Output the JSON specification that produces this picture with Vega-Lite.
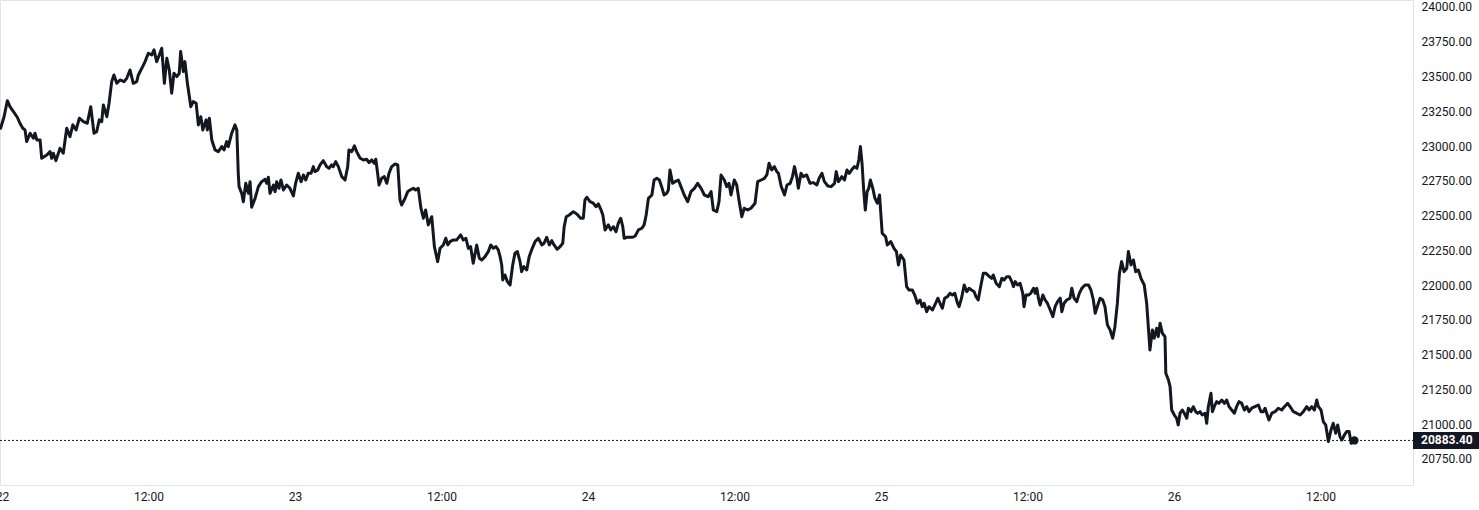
{
 "$schema": "https://vega.github.io/schema/vega-lite/v6.json",
 "width": 1413,
 "height": 485,
 "autosize": {"type": "none"},
 "padding": {"left": 0, "top": 0, "right": 66, "bottom": 25},
 "background": "#ffffff",
 "config": {"view": {"stroke": "#e0e3eb", "strokeWidth": 1}, "font": "Roboto"},
 "datasets": {
  "series": [
{"t":"2022-08-21T23:53","p":23128},{"t":"2022-08-22T00:10","p":23211},{"t":"2022-08-22T00:26","p":23326},{"t":"2022-08-22T00:39","p":23283},{"t":"2022-08-22T00:56","p":23247},{"t":"2022-08-22T01:15","p":23207},{"t":"2022-08-22T01:28","p":23164},{"t":"2022-08-22T01:42","p":23128},{"t":"2022-08-22T01:53","p":23116},{"t":"2022-08-22T02:01","p":23032},{"t":"2022-08-22T02:18","p":23092},{"t":"2022-08-22T02:34","p":23056},{"t":"2022-08-22T02:42","p":23092},{"t":"2022-08-22T02:51","p":23044},{"t":"2022-08-22T03:07","p":23044},{"t":"2022-08-22T03:15","p":22912},{"t":"2022-08-22T03:40","p":22936},{"t":"2022-08-22T03:56","p":22960},{"t":"2022-08-22T04:04","p":22912},{"t":"2022-08-22T04:12","p":22948},{"t":"2022-08-22T04:25","p":22895},{"t":"2022-08-22T04:45","p":22984},{"t":"2022-08-22T05:01","p":22948},{"t":"2022-08-22T05:18","p":23128},{"t":"2022-08-22T05:34","p":23067},{"t":"2022-08-22T05:48","p":23152},{"t":"2022-08-22T06:04","p":23116},{"t":"2022-08-22T06:20","p":23200},{"t":"2022-08-22T06:40","p":23175},{"t":"2022-08-22T06:59","p":23164},{"t":"2022-08-22T07:16","p":23283},{"t":"2022-08-22T07:32","p":23092},{"t":"2022-08-22T07:45","p":23103},{"t":"2022-08-22T07:58","p":23188},{"t":"2022-08-22T08:10","p":23175},{"t":"2022-08-22T08:18","p":23295},{"t":"2022-08-22T08:35","p":23211},{"t":"2022-08-22T08:46","p":23308},{"t":"2022-08-22T08:59","p":23463},{"t":"2022-08-22T09:10","p":23511},{"t":"2022-08-22T09:24","p":23451},{"t":"2022-08-22T09:40","p":23475},{"t":"2022-08-22T10:00","p":23463},{"t":"2022-08-22T10:13","p":23487},{"t":"2022-08-22T10:29","p":23547},{"t":"2022-08-22T10:45","p":23451},{"t":"2022-08-22T11:02","p":23463},{"t":"2022-08-22T11:10","p":23511},{"t":"2022-08-22T11:27","p":23559},{"t":"2022-08-22T11:43","p":23607},{"t":"2022-08-22T11:59","p":23667},{"t":"2022-08-22T12:16","p":23655},{"t":"2022-08-22T12:27","p":23691},{"t":"2022-08-22T12:40","p":23607},{"t":"2022-08-22T12:53","p":23655},{"t":"2022-08-22T13:05","p":23703},{"t":"2022-08-22T13:18","p":23451},{"t":"2022-08-22T13:30","p":23631},{"t":"2022-08-22T13:42","p":23547},{"t":"2022-08-22T13:54","p":23380},{"t":"2022-08-22T14:05","p":23523},{"t":"2022-08-22T14:19","p":23499},{"t":"2022-08-22T14:31","p":23523},{"t":"2022-08-22T14:38","p":23679},{"t":"2022-08-22T14:51","p":23535},{"t":"2022-08-22T14:59","p":23607},{"t":"2022-08-22T15:11","p":23451},{"t":"2022-08-22T15:28","p":23283},{"t":"2022-08-22T15:40","p":23319},{"t":"2022-08-22T15:54","p":23308},{"t":"2022-08-22T16:05","p":23152},{"t":"2022-08-22T16:17","p":23211},{"t":"2022-08-22T16:27","p":23116},{"t":"2022-08-22T16:43","p":23188},{"t":"2022-08-22T16:49","p":23116},{"t":"2022-08-22T16:59","p":23200},{"t":"2022-08-22T17:11","p":23044},{"t":"2022-08-22T17:27","p":22972},{"t":"2022-08-22T17:43","p":22960},{"t":"2022-08-22T18:00","p":22996},{"t":"2022-08-22T18:11","p":22972},{"t":"2022-08-22T18:24","p":23032},{"t":"2022-08-22T18:32","p":22996},{"t":"2022-08-22T18:49","p":23092},{"t":"2022-08-22T19:05","p":23152},{"t":"2022-08-22T19:14","p":23116},{"t":"2022-08-22T19:21","p":22804},{"t":"2022-08-22T19:25","p":22708},{"t":"2022-08-22T19:38","p":22660},{"t":"2022-08-22T19:46","p":22600},{"t":"2022-08-22T19:58","p":22732},{"t":"2022-08-22T20:11","p":22660},{"t":"2022-08-22T20:19","p":22744},{"t":"2022-08-22T20:27","p":22560},{"t":"2022-08-22T20:44","p":22625},{"t":"2022-08-22T21:00","p":22708},{"t":"2022-08-22T21:16","p":22744},{"t":"2022-08-22T21:33","p":22761},{"t":"2022-08-22T21:41","p":22732},{"t":"2022-08-22T21:49","p":22776},{"t":"2022-08-22T21:57","p":22660},{"t":"2022-08-22T22:14","p":22720},{"t":"2022-08-22T22:22","p":22672},{"t":"2022-08-22T22:30","p":22744},{"t":"2022-08-22T22:41","p":22696},{"t":"2022-08-22T22:51","p":22756},{"t":"2022-08-22T23:03","p":22684},{"t":"2022-08-22T23:19","p":22720},{"t":"2022-08-22T23:35","p":22696},{"t":"2022-08-22T23:52","p":22641},
{"t":"2022-08-23T00:03","p":22732},{"t":"2022-08-23T00:16","p":22804},{"t":"2022-08-23T00:30","p":22744},{"t":"2022-08-23T00:41","p":22792},{"t":"2022-08-23T00:53","p":22756},{"t":"2022-08-23T01:05","p":22804},{"t":"2022-08-23T01:19","p":22804},{"t":"2022-08-23T01:30","p":22852},{"t":"2022-08-23T01:38","p":22816},{"t":"2022-08-23T01:52","p":22828},{"t":"2022-08-23T02:03","p":22864},{"t":"2022-08-23T02:19","p":22895},{"t":"2022-08-23T02:36","p":22852},{"t":"2022-08-23T02:47","p":22840},{"t":"2022-08-23T03:00","p":22864},{"t":"2022-08-23T03:08","p":22852},{"t":"2022-08-23T03:20","p":22888},{"t":"2022-08-23T03:33","p":22852},{"t":"2022-08-23T03:50","p":22780},{"t":"2022-08-23T04:06","p":22756},{"t":"2022-08-23T04:19","p":22852},{"t":"2022-08-23T04:25","p":22972},{"t":"2022-08-23T04:39","p":22960},{"t":"2022-08-23T04:52","p":23001},{"t":"2022-08-23T05:03","p":22960},{"t":"2022-08-23T05:20","p":22912},{"t":"2022-08-23T05:36","p":22900},{"t":"2022-08-23T05:52","p":22905},{"t":"2022-08-23T06:04","p":22881},{"t":"2022-08-23T06:17","p":22900},{"t":"2022-08-23T06:30","p":22876},{"t":"2022-08-23T06:37","p":22905},{"t":"2022-08-23T06:46","p":22804},{"t":"2022-08-23T06:53","p":22720},{"t":"2022-08-23T07:06","p":22768},{"t":"2022-08-23T07:19","p":22780},{"t":"2022-08-23T07:31","p":22732},{"t":"2022-08-23T07:42","p":22804},{"t":"2022-08-23T07:55","p":22852},{"t":"2022-08-23T08:12","p":22871},{"t":"2022-08-23T08:25","p":22864},{"t":"2022-08-23T08:36","p":22612},{"t":"2022-08-23T08:44","p":22576},{"t":"2022-08-23T09:01","p":22625},{"t":"2022-08-23T09:14","p":22672},{"t":"2022-08-23T09:25","p":22684},{"t":"2022-08-23T09:42","p":22696},{"t":"2022-08-23T09:53","p":22684},{"t":"2022-08-23T10:06","p":22696},{"t":"2022-08-23T10:19","p":22553},{"t":"2022-08-23T10:31","p":22481},{"t":"2022-08-23T10:42","p":22540},{"t":"2022-08-23T10:55","p":22433},{"t":"2022-08-23T11:12","p":22492},{"t":"2022-08-23T11:25","p":22277},{"t":"2022-08-23T11:41","p":22169},{"t":"2022-08-23T11:53","p":22265},{"t":"2022-08-23T12:09","p":22289},{"t":"2022-08-23T12:21","p":22337},{"t":"2022-08-23T12:31","p":22289},{"t":"2022-08-23T12:42","p":22313},{"t":"2022-08-23T12:58","p":22325},{"t":"2022-08-23T13:15","p":22325},{"t":"2022-08-23T13:34","p":22361},{"t":"2022-08-23T13:47","p":22325},{"t":"2022-08-23T14:00","p":22337},{"t":"2022-08-23T14:12","p":22265},{"t":"2022-08-23T14:23","p":22277},{"t":"2022-08-23T14:36","p":22157},{"t":"2022-08-23T14:53","p":22289},{"t":"2022-08-23T15:06","p":22193},{"t":"2022-08-23T15:18","p":22181},{"t":"2022-08-23T15:34","p":22205},{"t":"2022-08-23T15:50","p":22241},{"t":"2022-08-23T16:02","p":22289},{"t":"2022-08-23T16:15","p":22265},{"t":"2022-08-23T16:28","p":22277},{"t":"2022-08-23T16:39","p":22253},{"t":"2022-08-23T16:48","p":22205},{"t":"2022-08-23T16:56","p":22145},{"t":"2022-08-23T17:01","p":22037},{"t":"2022-08-23T17:12","p":22073},{"t":"2022-08-23T17:24","p":22025},{"t":"2022-08-23T17:37","p":22001},{"t":"2022-08-23T17:50","p":22145},{"t":"2022-08-23T18:01","p":22229},{"t":"2022-08-23T18:13","p":22241},{"t":"2022-08-23T18:26","p":22169},{"t":"2022-08-23T18:34","p":22097},{"t":"2022-08-23T18:45","p":22133},{"t":"2022-08-23T18:59","p":22109},{"t":"2022-08-23T19:11","p":22205},{"t":"2022-08-23T19:23","p":22253},{"t":"2022-08-23T19:40","p":22313},{"t":"2022-08-23T19:56","p":22337},{"t":"2022-08-23T20:13","p":22289},{"t":"2022-08-23T20:24","p":22301},{"t":"2022-08-23T20:37","p":22344},{"t":"2022-08-23T20:50","p":22289},{"t":"2022-08-23T21:02","p":22320},{"t":"2022-08-23T21:13","p":22289},{"t":"2022-08-23T21:29","p":22258},{"t":"2022-08-23T21:43","p":22277},{"t":"2022-08-23T21:56","p":22301},{"t":"2022-08-23T22:03","p":22420},{"t":"2022-08-23T22:13","p":22492},{"t":"2022-08-23T22:28","p":22504},{"t":"2022-08-23T22:48","p":22528},{"t":"2022-08-23T23:05","p":22512},{"t":"2022-08-23T23:24","p":22481},{"t":"2022-08-23T23:37","p":22481},{"t":"2022-08-23T23:45","p":22612},{"t":"2022-08-23T23:54","p":22632},
{"t":"2022-08-24T00:10","p":22600},{"t":"2022-08-24T00:26","p":22589},{"t":"2022-08-24T00:40","p":22564},{"t":"2022-08-24T00:51","p":22584},{"t":"2022-08-24T01:03","p":22545},{"t":"2022-08-24T01:13","p":22504},{"t":"2022-08-24T01:24","p":22397},{"t":"2022-08-24T01:40","p":22433},{"t":"2022-08-24T01:52","p":22397},{"t":"2022-08-24T02:05","p":22420},{"t":"2022-08-24T02:18","p":22384},{"t":"2022-08-24T02:29","p":22445},{"t":"2022-08-24T02:41","p":22481},{"t":"2022-08-24T02:51","p":22420},{"t":"2022-08-24T02:58","p":22337},{"t":"2022-08-24T03:11","p":22344},{"t":"2022-08-24T03:27","p":22344},{"t":"2022-08-24T03:40","p":22344},{"t":"2022-08-24T03:52","p":22353},{"t":"2022-08-24T04:08","p":22397},{"t":"2022-08-24T04:25","p":22409},{"t":"2022-08-24T04:36","p":22433},{"t":"2022-08-24T04:46","p":22504},{"t":"2022-08-24T04:57","p":22624},{"t":"2022-08-24T05:14","p":22648},{"t":"2022-08-24T05:25","p":22756},{"t":"2022-08-24T05:38","p":22768},{"t":"2022-08-24T05:51","p":22756},{"t":"2022-08-24T06:02","p":22708},{"t":"2022-08-24T06:14","p":22648},{"t":"2022-08-24T06:27","p":22660},{"t":"2022-08-24T06:35","p":22684},{"t":"2022-08-24T06:43","p":22828},{"t":"2022-08-24T06:56","p":22732},{"t":"2022-08-24T07:08","p":22744},{"t":"2022-08-24T07:24","p":22756},{"t":"2022-08-24T07:37","p":22708},{"t":"2022-08-24T07:53","p":22648},{"t":"2022-08-24T08:10","p":22600},{"t":"2022-08-24T08:26","p":22672},{"t":"2022-08-24T08:43","p":22696},{"t":"2022-08-24T08:59","p":22732},{"t":"2022-08-24T09:16","p":22696},{"t":"2022-08-24T09:32","p":22648},{"t":"2022-08-24T09:51","p":22636},{"t":"2022-08-24T10:05","p":22672},{"t":"2022-08-24T10:16","p":22540},{"t":"2022-08-24T10:33","p":22528},{"t":"2022-08-24T10:44","p":22600},{"t":"2022-08-24T10:54","p":22792},{"t":"2022-08-24T11:10","p":22756},{"t":"2022-08-24T11:22","p":22708},{"t":"2022-08-24T11:33","p":22732},{"t":"2022-08-24T11:43","p":22648},{"t":"2022-08-24T11:59","p":22756},{"t":"2022-08-24T12:11","p":22720},{"t":"2022-08-24T12:22","p":22612},{"t":"2022-08-24T12:36","p":22492},{"t":"2022-08-24T12:48","p":22553},{"t":"2022-08-24T13:05","p":22540},{"t":"2022-08-24T13:21","p":22553},{"t":"2022-08-24T13:41","p":22589},{"t":"2022-08-24T13:54","p":22744},{"t":"2022-08-24T14:11","p":22756},{"t":"2022-08-24T14:27","p":22768},{"t":"2022-08-24T14:39","p":22792},{"t":"2022-08-24T14:50","p":22876},{"t":"2022-08-24T15:03","p":22828},{"t":"2022-08-24T15:16","p":22852},{"t":"2022-08-24T15:28","p":22816},{"t":"2022-08-24T15:36","p":22804},{"t":"2022-08-24T15:50","p":22708},{"t":"2022-08-24T16:06","p":22648},{"t":"2022-08-24T16:18","p":22720},{"t":"2022-08-24T16:34","p":22732},{"t":"2022-08-24T16:45","p":22780},{"t":"2022-08-24T16:55","p":22852},{"t":"2022-08-24T17:07","p":22768},{"t":"2022-08-24T17:14","p":22696},{"t":"2022-08-24T17:27","p":22804},{"t":"2022-08-24T17:38","p":22780},{"t":"2022-08-24T17:55","p":22792},{"t":"2022-08-24T18:11","p":22732},{"t":"2022-08-24T18:28","p":22737},{"t":"2022-08-24T18:45","p":22720},{"t":"2022-08-24T18:56","p":22768},{"t":"2022-08-24T19:10","p":22804},{"t":"2022-08-24T19:22","p":22744},{"t":"2022-08-24T19:39","p":22713},{"t":"2022-08-24T19:55","p":22708},{"t":"2022-08-24T20:12","p":22732},{"t":"2022-08-24T20:20","p":22816},{"t":"2022-08-24T20:31","p":22744},{"t":"2022-08-24T20:48","p":22780},{"t":"2022-08-24T21:01","p":22756},{"t":"2022-08-24T21:13","p":22828},{"t":"2022-08-24T21:24","p":22804},{"t":"2022-08-24T21:38","p":22833},{"t":"2022-08-24T21:50","p":22852},{"t":"2022-08-24T22:02","p":22840},{"t":"2022-08-24T22:11","p":22900},{"t":"2022-08-24T22:19","p":22996},{"t":"2022-08-24T22:27","p":22876},{"t":"2022-08-24T22:35","p":22684},{"t":"2022-08-24T22:43","p":22540},{"t":"2022-08-24T22:52","p":22672},{"t":"2022-08-24T23:00","p":22696},{"t":"2022-08-24T23:08","p":22756},{"t":"2022-08-24T23:20","p":22696},{"t":"2022-08-24T23:30","p":22625},{"t":"2022-08-24T23:42","p":22589},{"t":"2022-08-24T23:53","p":22648},
{"t":"2022-08-25T00:06","p":22373},{"t":"2022-08-25T00:23","p":22348},{"t":"2022-08-25T00:31","p":22289},{"t":"2022-08-25T00:48","p":22313},{"t":"2022-08-25T01:04","p":22265},{"t":"2022-08-25T01:16","p":22241},{"t":"2022-08-25T01:26","p":22145},{"t":"2022-08-25T01:37","p":22217},{"t":"2022-08-25T01:53","p":22181},{"t":"2022-08-25T02:06","p":21989},{"t":"2022-08-25T02:18","p":21965},{"t":"2022-08-25T02:34","p":21965},{"t":"2022-08-25T02:46","p":21929},{"t":"2022-08-25T02:59","p":21870},{"t":"2022-08-25T03:12","p":21893},{"t":"2022-08-25T03:23","p":21845},{"t":"2022-08-25T03:32","p":21870},{"t":"2022-08-25T03:45","p":21809},{"t":"2022-08-25T03:56","p":21845},{"t":"2022-08-25T04:13","p":21821},{"t":"2022-08-25T04:29","p":21870},{"t":"2022-08-25T04:40","p":21906},{"t":"2022-08-25T04:54","p":21857},{"t":"2022-08-25T05:02","p":21834},{"t":"2022-08-25T05:13","p":21906},{"t":"2022-08-25T05:27","p":21917},{"t":"2022-08-25T05:39","p":21941},{"t":"2022-08-25T05:51","p":21929},{"t":"2022-08-25T06:03","p":21941},{"t":"2022-08-25T06:16","p":21870},{"t":"2022-08-25T06:24","p":21845},{"t":"2022-08-25T06:36","p":21906},{"t":"2022-08-25T06:49","p":22001},{"t":"2022-08-25T07:02","p":21953},{"t":"2022-08-25T07:13","p":21977},{"t":"2022-08-25T07:25","p":21965},{"t":"2022-08-25T07:38","p":21953},{"t":"2022-08-25T07:47","p":21917},{"t":"2022-08-25T07:58","p":21893},{"t":"2022-08-25T08:10","p":21989},{"t":"2022-08-25T08:23","p":22085},{"t":"2022-08-25T08:36","p":22085},{"t":"2022-08-25T08:53","p":22061},{"t":"2022-08-25T09:04","p":22049},{"t":"2022-08-25T09:12","p":22073},{"t":"2022-08-25T09:26","p":22013},{"t":"2022-08-25T09:42","p":21989},{"t":"2022-08-25T09:54","p":22049},{"t":"2022-08-25T10:05","p":22037},{"t":"2022-08-25T10:18","p":22061},{"t":"2022-08-25T10:31","p":22061},{"t":"2022-08-25T10:43","p":22025},{"t":"2022-08-25T10:51","p":21989},{"t":"2022-08-25T11:00","p":22025},{"t":"2022-08-25T11:11","p":22001},{"t":"2022-08-25T11:24","p":22013},{"t":"2022-08-25T11:37","p":21941},{"t":"2022-08-25T11:43","p":21845},{"t":"2022-08-25T11:53","p":21929},{"t":"2022-08-25T12:05","p":21929},{"t":"2022-08-25T12:16","p":21941},{"t":"2022-08-25T12:30","p":21977},{"t":"2022-08-25T12:38","p":21941},{"t":"2022-08-25T12:46","p":21977},{"t":"2022-08-25T12:54","p":21906},{"t":"2022-08-25T13:02","p":21857},{"t":"2022-08-25T13:16","p":21929},{"t":"2022-08-25T13:27","p":21893},{"t":"2022-08-25T13:38","p":21870},{"t":"2022-08-25T13:52","p":21821},{"t":"2022-08-25T14:05","p":21773},{"t":"2022-08-25T14:16","p":21845},{"t":"2022-08-25T14:28","p":21881},{"t":"2022-08-25T14:41","p":21906},{"t":"2022-08-25T14:49","p":21809},{"t":"2022-08-25T15:00","p":21870},{"t":"2022-08-25T15:13","p":21893},{"t":"2022-08-25T15:29","p":21906},{"t":"2022-08-25T15:38","p":21977},{"t":"2022-08-25T15:49","p":21906},{"t":"2022-08-25T16:02","p":21881},{"t":"2022-08-25T16:15","p":21941},{"t":"2022-08-25T16:27","p":21977},{"t":"2022-08-25T16:43","p":22001},{"t":"2022-08-25T17:00","p":22001},{"t":"2022-08-25T17:12","p":21965},{"t":"2022-08-25T17:24","p":21893},{"t":"2022-08-25T17:33","p":21798},{"t":"2022-08-25T17:43","p":21845},{"t":"2022-08-25T17:57","p":21906},{"t":"2022-08-25T18:10","p":21893},{"t":"2022-08-25T18:21","p":21845},{"t":"2022-08-25T18:33","p":21714},{"t":"2022-08-25T18:46","p":21678},{"t":"2022-08-25T18:59","p":21618},{"t":"2022-08-25T19:10","p":21701},{"t":"2022-08-25T19:22","p":21870},{"t":"2022-08-25T19:32","p":22085},{"t":"2022-08-25T19:43","p":22169},{"t":"2022-08-25T19:55","p":22097},{"t":"2022-08-25T20:08","p":22121},{"t":"2022-08-25T20:16","p":22241},{"t":"2022-08-25T20:29","p":22145},{"t":"2022-08-25T20:41","p":22181},{"t":"2022-08-25T20:52","p":22097},{"t":"2022-08-25T21:05","p":22109},{"t":"2022-08-25T21:18","p":22049},{"t":"2022-08-25T21:34","p":22001},{"t":"2022-08-25T21:46","p":21870},{"t":"2022-08-25T21:54","p":21701},{"t":"2022-08-25T22:02","p":21534},{"t":"2022-08-25T22:14","p":21678},{"t":"2022-08-25T22:23","p":21618},{"t":"2022-08-25T22:35","p":21690},{"t":"2022-08-25T22:43","p":21630},{"t":"2022-08-25T22:52","p":21726},{"t":"2022-08-25T23:03","p":21654},{"t":"2022-08-25T23:16","p":21630},{"t":"2022-08-25T23:20","p":21366},{"t":"2022-08-25T23:33","p":21318},{"t":"2022-08-25T23:41","p":21270},{"t":"2022-08-25T23:49","p":21102},
{"t":"2022-08-26T00:02","p":21066},{"t":"2022-08-26T00:13","p":21043},{"t":"2022-08-26T00:21","p":20995},{"t":"2022-08-26T00:30","p":21079},{"t":"2022-08-26T00:41","p":21102},{"t":"2022-08-26T00:51","p":21079},{"t":"2022-08-26T01:03","p":21043},{"t":"2022-08-26T01:11","p":21115},{"t":"2022-08-26T01:24","p":21090},{"t":"2022-08-26T01:35","p":21126},{"t":"2022-08-26T01:47","p":21090},{"t":"2022-08-26T01:57","p":21079},{"t":"2022-08-26T02:08","p":21090},{"t":"2022-08-26T02:19","p":21066},{"t":"2022-08-26T02:33","p":21079},{"t":"2022-08-26T02:41","p":21007},{"t":"2022-08-26T02:49","p":21126},{"t":"2022-08-26T03:02","p":21222},{"t":"2022-08-26T03:09","p":21090},{"t":"2022-08-26T03:18","p":21126},{"t":"2022-08-26T03:30","p":21162},{"t":"2022-08-26T03:41","p":21150},{"t":"2022-08-26T03:55","p":21174},{"t":"2022-08-26T04:08","p":21150},{"t":"2022-08-26T04:19","p":21174},{"t":"2022-08-26T04:31","p":21126},{"t":"2022-08-26T04:44","p":21102},{"t":"2022-08-26T04:57","p":21079},{"t":"2022-08-26T05:08","p":21126},{"t":"2022-08-26T05:20","p":21162},{"t":"2022-08-26T05:33","p":21150},{"t":"2022-08-26T05:46","p":21102},{"t":"2022-08-26T05:58","p":21126},{"t":"2022-08-26T06:09","p":21090},{"t":"2022-08-26T06:22","p":21115},{"t":"2022-08-26T06:38","p":21126},{"t":"2022-08-26T06:55","p":21138},{"t":"2022-08-26T07:08","p":21090},{"t":"2022-08-26T07:19","p":21090},{"t":"2022-08-26T07:28","p":21115},{"t":"2022-08-26T07:41","p":21055},{"t":"2022-08-26T07:47","p":21030},{"t":"2022-08-26T08:01","p":21079},{"t":"2022-08-26T08:17","p":21090},{"t":"2022-08-26T08:33","p":21115},{"t":"2022-08-26T08:50","p":21102},{"t":"2022-08-26T09:03","p":21126},{"t":"2022-08-26T09:19","p":21150},{"t":"2022-08-26T09:36","p":21115},{"t":"2022-08-26T09:47","p":21090},{"t":"2022-08-26T10:03","p":21079},{"t":"2022-08-26T10:20","p":21066},{"t":"2022-08-26T10:36","p":21090},{"t":"2022-08-26T10:53","p":21126},{"t":"2022-08-26T11:04","p":21102},{"t":"2022-08-26T11:17","p":21126},{"t":"2022-08-26T11:30","p":21102},{"t":"2022-08-26T11:42","p":21174},{"t":"2022-08-26T11:50","p":21126},{"t":"2022-08-26T12:03","p":21102},{"t":"2022-08-26T12:14","p":21019},{"t":"2022-08-26T12:26","p":20995},{"t":"2022-08-26T12:39","p":20875},{"t":"2022-08-26T12:52","p":20959},{"t":"2022-08-26T13:03","p":21007},{"t":"2022-08-26T13:15","p":20935},{"t":"2022-08-26T13:25","p":20995},{"t":"2022-08-26T13:36","p":20911},{"t":"2022-08-26T13:45","p":20887},{"t":"2022-08-26T13:58","p":20923},{"t":"2022-08-26T14:09","p":20947},{"t":"2022-08-26T14:21","p":20947},{"t":"2022-08-26T14:31","p":20863},{"t":"2022-08-26T14:47","p":20883.4}
  ],
  "last": [{"t": "2022-08-26T14:47", "p": 20883.4}]
 },
 "encoding": {
  "x": {"field": "t", "type": "temporal",
   "scale": {"domain": [{"year": 2022, "month": 8, "date": 21, "hours": 23, "minutes": 50}, {"year": 2022, "month": 8, "date": 26, "hours": 19, "minutes": 35}]},
   "axis": {"title": null, "ticks": false, "domain": false, "grid": false, "labelColor": "#131722", "labelFontSize": 12, "labelFont": "Roboto", "labelPadding": 6, "labelOverlap": false, "labelFlush": false, "labelBound": false,
    "values": [
     {"year": 2022, "month": 8, "date": 22, "hours": 0}, {"year": 2022, "month": 8, "date": 22, "hours": 12},
     {"year": 2022, "month": 8, "date": 23, "hours": 0}, {"year": 2022, "month": 8, "date": 23, "hours": 12},
     {"year": 2022, "month": 8, "date": 24, "hours": 0}, {"year": 2022, "month": 8, "date": 24, "hours": 12},
     {"year": 2022, "month": 8, "date": 25, "hours": 0}, {"year": 2022, "month": 8, "date": 25, "hours": 12},
     {"year": 2022, "month": 8, "date": 26, "hours": 0}, {"year": 2022, "month": 8, "date": 26, "hours": 12}],
    "labelExpr": "hours(datum.value) == 0 ? timeFormat(datum.value, '%-d') : timeFormat(datum.value, '%H:%M')"}},
  "y": {"field": "p", "type": "quantitative",
   "scale": {"domain": [20563, 24050], "nice": false, "zero": false},
   "axis": {"title": null, "orient": "right", "ticks": false, "domain": false, "grid": false, "labelColor": "#131722", "labelFontSize": 12, "labelFont": "Roboto", "labelPadding": 8, "format": ".2f", "labelOverlap": false,
    "values": [20750, 21000, 21250, 21500, 21750, 22000, 22250, 22500, 22750, 23000, 23250, 23500, 23750, 24000]}}
 },
 "layer": [
  {
   "data": {"name": "series"},
   "mark": {"type": "line", "color": "#131722", "strokeWidth": 3, "strokeJoin": "round", "strokeCap": "round", "clip": true}
  },
  {
   "data": {"name": "last"},
   "mark": {"type": "point", "filled": true, "size": 70, "color": "#131722", "opacity": 1}
  },
  {
   "data": {"name": "last"},
   "mark": {"type": "rule", "color": "#131722", "strokeDash": [2, 2], "strokeWidth": 1},
   "encoding": {"x": {"value": 0}, "x2": {"value": "width"}}
  },
  {
   "data": {"name": "last"},
   "mark": {"type": "rect", "color": "#131722", "yOffset": -8.5, "y2Offset": 8.5, "x2Offset": 66, "clip": false},
   "encoding": {
    "x": {"value": "width"},
    "x2": {"value": "width"},
    "y2": {"field": "p"}
   }
  },
  {
   "data": {"name": "last"},
   "mark": {"type": "text", "color": "#ffffff", "align": "left", "baseline": "middle", "dx": 8, "fontSize": 12, "fontWeight": "bold", "font": "Roboto"},
   "encoding": {
    "x": {"value": "width"},
    "text": {"field": "p", "type": "quantitative", "format": ".2f"}
   }
  }
 ]
}
